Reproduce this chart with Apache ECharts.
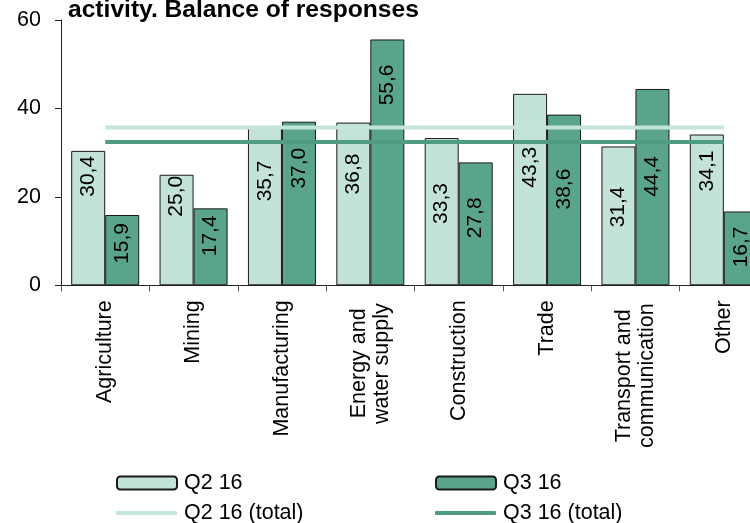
<!DOCTYPE html>
<html>
<head>
<meta charset="utf-8">
<script src="https://cdn.jsdelivr.net/npm/echarts@6/dist/echarts.min.js"></script>
<style>html,body{margin:0;padding:0;background:#fff;overflow:hidden;width:750px;height:523px}#c{width:768px;height:523px}</style>
</head>
<body>
<div id="c"></div>
<script>
// ---- data ----
const categories = ['Agriculture', 'Mining', 'Manufacturing', 'Energy and\nwater supply', 'Construction', 'Trade', 'Transport and\ncommunication', 'Other'];
const q2Values = [30.4, 25.0, 35.7, 36.8, 33.3, 43.3, 31.4, 34.1];
const q3Values = [15.9, 17.4, 37.0, 55.6, 27.8, 38.6, 44.4, 16.7];
const q2Total = 35.7;
const q3Total = 32.4;
const yTicks = [0, 20, 40, 60];
const titleText = 'activity. Balance of responses';

// ---- styling (label drop from bar top, px) ----
const q2LabelDrop = [5, 1, 33, 31, 45, 53, 40, 16];
const q3LabelDrop = [8, 7, 26, 25, 35, 54, 67, 15];

const FONT = 'Arial, "Liberation Sans", sans-serif';
const LIGHT = '#c2e3d6';
const DARK = '#5aa58a';
const LIGHT_LINE = '#c4e6d8';
const DARK_LINE = '#4f9c80';
const FS = 21.5;

function fmt(v) { return v.toFixed(1).replace('.', ','); }

function barData(values, drops) {
  return values.map((v, i) => ({ value: v, label: { distance: drops[i] } }));
}

// centre the lines of two-line category labels (shorter line padded)
const measureCtx = document.createElement('canvas').getContext('2d');
measureCtx.font = FS + 'px Arial, "Liberation Sans", sans-serif';
function catLabel(text) {
  const lines = text.split('\n');
  if (lines.length < 2) return '{n|' + text + '}';
  const w = lines.map(l => measureCtx.measureText(l).width);
  const max = Math.max.apply(null, w);
  return lines.map((l, i) => {
    const pad = Math.min(30, Math.round((max - w[i]) / 2) + 3);
    return '{p' + pad + '|' + l + '}';
  }).join('\n');
}
const richStyles = { n: { fontFamily: FONT, fontSize: FS, color: '#000' } };
for (let p = 1; p <= 30; p++) {
  richStyles['p' + p] = { fontFamily: FONT, fontSize: FS, color: '#000', padding: [0, p, 0, 0] };
}

const labelBase = {
  show: true,
  position: 'insideTop',
  rotate: 90,
  align: 'right',
  verticalAlign: 'middle',
  fontFamily: FONT,
  fontSize: 21,
  color: '#000',
  formatter: p => fmt(p.value)
};

const chart = echarts.init(document.getElementById('c'), null, { renderer: 'canvas' });
const legendCommon = {
  itemGap: 0,
  textStyle: { fontFamily: FONT, fontSize: FS, color: '#000', padding: [0, 0, 0, 2] },
  padding: 0, selectedMode: false
};
chart.setOption({
  animation: false,
  title: {
    text: titleText, left: 63, top: -7,
    textStyle: { fontFamily: FONT, fontSize: 24.6, fontWeight: 'bold', color: '#000' }
  },
  grid: { left: 61, right: 0, top: 20, bottom: 237.7, containLabel: false },
  legend: [
    Object.assign({ data: ['Q2 16'], left: 116, top: 472, itemWidth: 60, itemHeight: 13 }, legendCommon),
    Object.assign({ data: ['Q3 16'], left: 435, top: 472, itemWidth: 60, itemHeight: 13 }, legendCommon),
    Object.assign({ data: [{ name: 'Q2 16 (total)', icon: 'roundRect' }], left: 116, top: 502, itemWidth: 61, itemHeight: 4 }, legendCommon),
    Object.assign({ data: [{ name: 'Q3 16 (total)', icon: 'roundRect' }], left: 435, top: 502, itemWidth: 61, itemHeight: 4 }, legendCommon)
  ],
  xAxis: {
    type: 'category',
    data: categories,
    axisLine: { lineStyle: { color: '#222', width: 1 } },
    axisTick: { show: true, length: 6, inside: false, alignWithLabel: false, lineStyle: { color: '#555' } },
    axisLabel: {
      interval: 0, rotate: 90, margin: 15, fontFamily: FONT, fontSize: FS, color: '#000', lineHeight: 23,
      formatter: v => catLabel(v), rich: richStyles
    },
    splitLine: { show: false }
  },
  yAxis: {
    type: 'value',
    min: yTicks[0], max: yTicks[yTicks.length - 1], interval: yTicks[1] - yTicks[0],
    axisLine: { show: true, lineStyle: { color: '#222', width: 1 } },
    axisTick: { show: true, length: 6, inside: false, lineStyle: { color: '#222' } },
    axisLabel: { margin: 20, fontFamily: FONT, fontSize: FS, color: '#000' },
    splitLine: { show: false }
  },
  series: [
    {
      name: 'Q2 16', type: 'bar', barWidth: 34, barGap: '0%',
      itemStyle: { color: LIGHT, borderColor: '#1a1a1a', borderWidth: 1 },
      label: labelBase,
      data: barData(q2Values, q2LabelDrop)
    },
    {
      name: 'Q3 16', type: 'bar', barWidth: 34, barGap: '0%',
      itemStyle: { color: DARK, borderColor: '#1a1a1a', borderWidth: 1 },
      label: labelBase,
      data: barData(q3Values, q3LabelDrop)
    },
    {
      name: 'Q2 16 (total)', type: 'line', symbol: 'none', z: 5,
      lineStyle: { color: LIGHT_LINE, width: 4 }, itemStyle: { color: LIGHT_LINE },
      data: categories.map(() => q2Total)
    },
    {
      name: 'Q3 16 (total)', type: 'line', symbol: 'none', z: 5,
      lineStyle: { color: DARK_LINE, width: 4 }, itemStyle: { color: DARK_LINE },
      data: categories.map(() => q3Total)
    }
  ]
});
</script>
</body>
</html>
